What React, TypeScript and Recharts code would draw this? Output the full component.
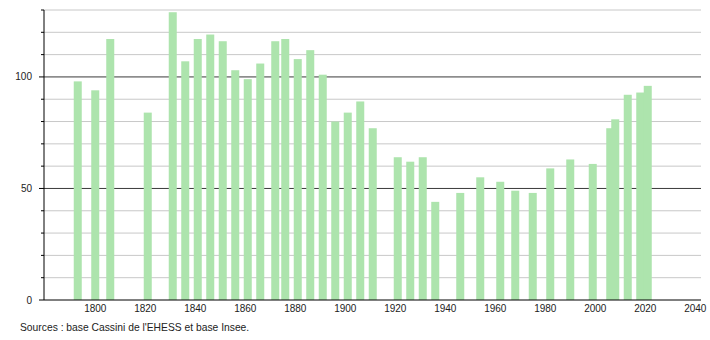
import React from "react";
import { BarChart, Bar, XAxis, YAxis, CartesianGrid } from "recharts";

// census years and population counts
const YEARS = [
  1793, 1800, 1806, 1821, 1831, 1836, 1841, 1846, 1851, 1856, 1861, 1866, 1872,
  1876, 1881, 1886, 1891, 1896, 1901, 1906, 1911, 1921, 1926, 1931, 1936, 1946,
  1954, 1962, 1968, 1975, 1982, 1990, 1999, 2006, 2008, 2013, 2018, 2021,
];
const POPULATION = [
  98, 94, 117, 84, 129, 107, 117, 119, 116, 103, 99, 106, 116, 117, 108, 112,
  101, 80, 84, 89, 77, 64, 62, 64, 44, 48, 55, 53, 49, 48, 59, 63, 61, 77, 81,
  92, 93, 96,
];

const X_TICKS = [1800, 1820, 1840, 1860, 1880, 1900, 1920, 1940, 1960, 1980, 2000, 2020, 2040];
const Y_TICKS = [0, 10, 20, 30, 40, 50, 60, 70, 80, 90, 100, 110, 120, 130];
const Y_MAJOR = [0, 50, 100];
const LIGHT_GRID = [10, 20, 30, 40, 60, 70, 80, 90, 110, 120, 130];
const DARK_GRID = [50, 100];

const SOURCE = "Sources : base Cassini de l'EHESS et base Insee.";

const BAR_COLOR = "#ade4ad";
const BAR_WIDTH = 8;
const FONT = "'Liberation Sans', Arial, sans-serif";

const data = YEARS.map((year, i) => ({ year, pop: POPULATION[i] }));

function YTick(props: any) {
  const { x, y, payload } = props;
  const major = Y_MAJOR.includes(payload.value);
  return (
    <g>
      <line x1={x - (major ? 5 : 3)} x2={x} y1={y} y2={y} stroke="#000" />
      {major && (
        <text x={x - 12} y={y} dy="0.35em" textAnchor="end" fontSize={10} fill="#222" fontFamily={FONT}>
          {payload.value}
        </text>
      )}
    </g>
  );
}

// recharts shrinks bars to the smallest year gap, so widen them around their centre
function WideBar(props: any) {
  const { x, y, width, height, fill } = props;
  if (height == null || height <= 0) return null;
  const cx = x + width / 2;
  return <rect x={cx - BAR_WIDTH / 2} y={y} width={BAR_WIDTH} height={height} fill={fill} />;
}

export default function App() {
  return (
    <div style={{ position: "absolute", left: 0, top: 0, width: 710, height: 340, background: "#fff" }}>
      <BarChart
        width={710}
        height={340}
        data={data}
        margin={{ top: 10, right: 9, left: 0, bottom: 20 }}
      >
        <CartesianGrid vertical={false} stroke="#c8c8c8" horizontalValues={LIGHT_GRID} />
        <CartesianGrid vertical={false} stroke="#3a3a3a" horizontalValues={DARK_GRID} />
        <XAxis
          dataKey="year"
          type="number"
          domain={[1779.5, 2042.3]}
          allowDataOverflow
          ticks={X_TICKS}
          tickLine={false}
          tickSize={3}
          tickMargin={2}
          axisLine={{ stroke: "#000" }}
          height={20}
          tick={{ fontSize: 10, fill: "#222", fontFamily: FONT }}
        />
        <YAxis
          type="number"
          domain={[0, 130]}
          ticks={Y_TICKS}
          interval={0}
          width={44}
          tickLine={false}
          tickSize={0}
          tickMargin={0}
          axisLine={{ stroke: "#000" }}
          tick={<YTick />}
        />
        <Bar dataKey="pop" fill={BAR_COLOR} shape={<WideBar />} isAnimationActive={false} />
      </BarChart>
      <div
        style={{
          position: "absolute",
          left: 20,
          top: 322,
          fontFamily: FONT,
          fontSize: 10.3,
          color: "#222",
          whiteSpace: "nowrap",
        }}
      >
        {SOURCE}
      </div>
    </div>
  );
}
